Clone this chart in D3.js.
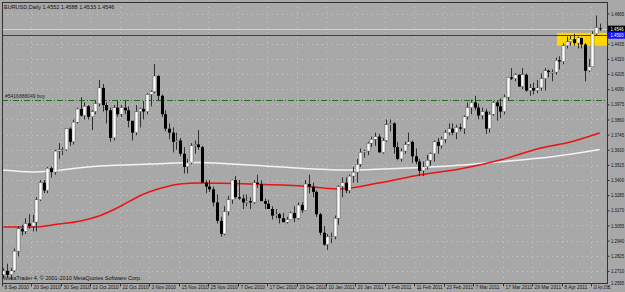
<!DOCTYPE html>
<html>
<head>
<meta charset="utf-8">
<script src="https://cdn.jsdelivr.net/npm/d3@7"></script>
<style>
	body { margin: 0; background: #a8a8a8; }
	svg { display: block; }
	text { font-family: "Liberation Sans", "DejaVu Sans", sans-serif; }
</style>
</head>
<body>
<div id="chart"></div>
<script>
// EURUSD Daily, 8 Sep 2010 .. 22 Apr 2011
var dates = ["2010-09-08","2010-09-09","2010-09-10","2010-09-13","2010-09-14","2010-09-15","2010-09-16","2010-09-17","2010-09-20","2010-09-21","2010-09-22","2010-09-23","2010-09-24","2010-09-27","2010-09-28","2010-09-29","2010-09-30",
	"2010-10-01","2010-10-04","2010-10-05","2010-10-06","2010-10-07","2010-10-08","2010-10-11","2010-10-12","2010-10-13","2010-10-14","2010-10-15","2010-10-18","2010-10-19","2010-10-20","2010-10-21","2010-10-22","2010-10-25","2010-10-26","2010-10-27","2010-10-28","2010-10-29",
	"2010-11-01","2010-11-02","2010-11-03","2010-11-04","2010-11-05","2010-11-08","2010-11-09","2010-11-10","2010-11-11","2010-11-12","2010-11-15","2010-11-16","2010-11-17","2010-11-18","2010-11-19","2010-11-22","2010-11-23","2010-11-24","2010-11-25","2010-11-26","2010-11-29","2010-11-30",
	"2010-12-01","2010-12-02","2010-12-03","2010-12-06","2010-12-07","2010-12-08","2010-12-09","2010-12-10","2010-12-13","2010-12-14","2010-12-15","2010-12-16","2010-12-17","2010-12-20","2010-12-21","2010-12-22","2010-12-23","2010-12-24","2010-12-27","2010-12-28","2010-12-29","2010-12-30","2010-12-31",
	"2011-01-03","2011-01-04","2011-01-05","2011-01-06","2011-01-07","2011-01-10","2011-01-11","2011-01-12","2011-01-13","2011-01-14","2011-01-17","2011-01-18","2011-01-19","2011-01-20","2011-01-21","2011-01-24","2011-01-25","2011-01-26","2011-01-27","2011-01-28","2011-01-31",
	"2011-02-01","2011-02-02","2011-02-03","2011-02-04","2011-02-07","2011-02-08","2011-02-09","2011-02-10","2011-02-11","2011-02-14","2011-02-15","2011-02-16","2011-02-17","2011-02-18","2011-02-21","2011-02-22","2011-02-23","2011-02-24","2011-02-25","2011-02-28",
	"2011-03-01","2011-03-02","2011-03-03","2011-03-04","2011-03-07","2011-03-08","2011-03-09","2011-03-10","2011-03-11","2011-03-14","2011-03-15","2011-03-16","2011-03-17","2011-03-18","2011-03-21","2011-03-22","2011-03-23","2011-03-24","2011-03-25","2011-03-28","2011-03-29","2011-03-30","2011-03-31",
	"2011-04-01","2011-04-04","2011-04-05","2011-04-06","2011-04-07","2011-04-08","2011-04-11","2011-04-12","2011-04-13","2011-04-14","2011-04-15","2011-04-18","2011-04-19","2011-04-20","2011-04-21","2011-04-22"];

var open = [1.2680,1.2710,1.2680,1.2710,1.2860,1.3030,1.3010,1.3070,1.3050,1.3080,1.3250,1.3380,1.3320,1.3490,1.3460,1.3620,1.3630,
	1.3630,1.3790,1.3690,1.3840,1.3940,1.3890,1.3960,1.3880,1.3920,1.3980,1.4100,1.3970,1.3930,1.3720,1.3950,1.3900,1.3950,1.3930,1.3850,1.3760,1.3920,
	1.3940,1.3920,1.4050,1.4070,1.4190,1.4040,1.3900,1.3790,1.3760,1.3690,1.3700,1.3600,1.3500,1.3530,1.3660,1.3670,1.3650,1.3380,1.3350,1.3330,1.3230,1.3090,
	1.2990,1.3160,1.3250,1.3400,1.3270,1.3260,1.3230,1.3240,1.3230,1.3380,1.3370,1.3240,1.3220,1.3180,1.3130,1.3140,1.3110,1.3080,1.3100,1.3150,1.3110,1.3210,1.3170,
	1.3370,1.3350,1.3310,1.3140,1.3000,1.2910,1.2970,1.2970,1.3110,1.3350,1.3380,1.3320,1.3430,1.3460,1.3520,1.3610,1.3620,1.3680,1.3710,1.3730,1.3610,
	1.3700,1.3820,1.3830,1.3650,1.3560,1.3620,1.3670,1.3690,1.3580,1.3540,1.3470,1.3500,1.3550,1.3600,1.3690,1.3660,1.3710,1.3760,1.3790,1.3760,
	1.3800,1.3790,1.3880,1.3950,1.3990,1.3950,1.3890,1.3920,1.3790,1.3900,1.3990,1.3960,1.3920,1.4030,1.4180,1.4170,1.4200,1.4110,1.4200,1.4080,1.4100,1.4080,1.4100,
	1.4170,1.4230,1.4220,1.4220,1.4310,1.4300,1.4420,1.4450,1.4470,1.4440,1.4480,1.4430,1.4230,1.4260,1.4510,1.4552];

var high = [1.2730,1.2765,1.2730,1.2880,1.3050,1.3060,1.3110,1.3140,1.3135,1.3270,1.3400,1.3400,1.3500,1.3500,1.3630,1.3680,1.3650,
	1.3790,1.3800,1.3860,1.3950,1.4030,1.3990,1.3970,1.3930,1.4000,1.4160,1.4130,1.3990,1.3950,1.3970,1.4000,1.3970,1.4000,1.3960,1.3850,1.3970,1.3950,
	1.4000,1.4060,1.4080,1.4280,1.4200,1.4050,1.3930,1.3830,1.3800,1.3760,1.3720,1.3650,1.3560,1.3680,1.3700,1.3780,1.3660,1.3400,1.3400,1.3350,1.3290,1.3120,
	1.3200,1.3280,1.3400,1.3430,1.3400,1.3290,1.3290,1.3270,1.3400,1.3440,1.3400,1.3260,1.3250,1.3200,1.3180,1.3150,1.3150,1.3120,1.3160,1.3200,1.3230,1.3230,1.3400,
	1.3440,1.3380,1.3320,1.3150,1.3050,1.2990,1.3000,1.3130,1.3360,1.3420,1.3420,1.3440,1.3500,1.3560,1.3640,1.3630,1.3690,1.3730,1.3760,1.3750,1.3720,
	1.3860,1.3860,1.3840,1.3690,1.3640,1.3690,1.3760,1.3700,1.3640,1.3560,1.3540,1.3590,1.3610,1.3700,1.3720,1.3730,1.3780,1.3830,1.3830,1.3820,
	1.3830,1.3890,1.3990,1.4010,1.4040,1.3980,1.3950,1.3940,1.3920,1.4000,1.4000,1.4020,1.4050,1.4180,1.4250,1.4210,1.4200,1.4250,1.4210,1.4130,1.4140,1.4160,1.4210,
	1.4250,1.4240,1.4240,1.4330,1.4340,1.4440,1.4490,1.4500,1.4510,1.4490,1.4480,1.4440,1.4320,1.4530,1.4650,1.4588];

var low = [1.2650,1.2660,1.2640,1.2700,1.2820,1.2980,1.2990,1.3030,1.3010,1.3010,1.3240,1.3300,1.3300,1.3420,1.3440,1.3560,1.3590,
	1.3620,1.3660,1.3670,1.3830,1.3880,1.3860,1.3860,1.3780,1.3900,1.3960,1.3920,1.3830,1.3690,1.3700,1.3880,1.3880,1.3900,1.3800,1.3700,1.3740,1.3800,
	1.3860,1.3900,1.3960,1.4060,1.4000,1.3880,1.3770,1.3710,1.3610,1.3630,1.3580,1.3450,1.3450,1.3520,1.3600,1.3630,1.3390,1.3300,1.3310,1.3200,1.3070,1.2970,
	1.2980,1.3130,1.3220,1.3260,1.3250,1.3180,1.3200,1.3180,1.3220,1.3340,1.3240,1.3180,1.3180,1.3100,1.3110,1.3070,1.3080,1.3070,1.3100,1.3080,1.3100,1.3150,1.3170,
	1.3300,1.3270,1.3120,1.2980,1.2900,1.2870,1.2920,1.2950,1.3060,1.3270,1.3300,1.3300,1.3380,1.3380,1.3500,1.3570,1.3590,1.3650,1.3660,1.3610,1.3600,
	1.3690,1.3770,1.3600,1.3550,1.3540,1.3600,1.3660,1.3530,1.3520,1.3430,1.3430,1.3480,1.3510,1.3540,1.3600,1.3640,1.3680,1.3740,1.3740,1.3710,
	1.3770,1.3750,1.3860,1.3900,1.3930,1.3860,1.3860,1.3750,1.3760,1.3890,1.3850,1.3870,1.3900,1.4000,1.4160,1.4150,1.4110,1.4090,1.4070,1.4040,1.4050,1.4060,1.4080,
	1.4080,1.4180,1.4150,1.4200,1.4240,1.4280,1.4400,1.4420,1.4420,1.4400,1.4400,1.4150,1.4220,1.4260,1.4500,1.4533];

var close = [1.2710,1.2680,1.2710,1.2860,1.3030,1.3010,1.3070,1.3050,1.3080,1.3250,1.3380,1.3320,1.3490,1.3460,1.3620,1.3630,1.3630,
	1.3790,1.3690,1.3840,1.3940,1.3890,1.3960,1.3880,1.3920,1.3980,1.4100,1.3970,1.3930,1.3720,1.3950,1.3900,1.3950,1.3930,1.3850,1.3760,1.3920,1.3940,
	1.3920,1.4050,1.4070,1.4190,1.4040,1.3900,1.3790,1.3760,1.3690,1.3700,1.3600,1.3500,1.3530,1.3660,1.3670,1.3650,1.3380,1.3350,1.3330,1.3230,1.3090,1.2990,
	1.3160,1.3250,1.3400,1.3270,1.3260,1.3230,1.3240,1.3230,1.3380,1.3370,1.3240,1.3220,1.3180,1.3130,1.3140,1.3110,1.3080,1.3100,1.3150,1.3110,1.3210,1.3170,1.3370,
	1.3350,1.3310,1.3140,1.3000,1.2910,1.2970,1.2970,1.3110,1.3350,1.3380,1.3320,1.3430,1.3460,1.3520,1.3610,1.3620,1.3680,1.3710,1.3730,1.3610,1.3700,
	1.3820,1.3830,1.3650,1.3560,1.3620,1.3670,1.3690,1.3580,1.3540,1.3470,1.3500,1.3550,1.3600,1.3690,1.3660,1.3710,1.3760,1.3790,1.3760,1.3800,
	1.3790,1.3880,1.3950,1.3990,1.3950,1.3890,1.3920,1.3790,1.3900,1.3990,1.3960,1.3920,1.4030,1.4180,1.4170,1.4200,1.4110,1.4200,1.4080,1.4100,1.4080,1.4100,1.4170,
	1.4230,1.4220,1.4220,1.4310,1.4300,1.4420,1.4450,1.4470,1.4440,1.4480,1.4430,1.4230,1.4260,1.4510,1.4560,1.4546];

// moving averages, read at sample bars (bar index, price)
var maRedIdx = [0, 8, 15, 21, 26, 32, 37, 43, 48, 53, 67, 81, 91, 102, 113, 124, 135, 146, 154, 162];
var maRedVal = [1.3043, 1.3043, 1.3066, 1.3089, 1.3127, 1.3203, 1.3279, 1.3339, 1.3370, 1.3377, 1.3370, 1.3355, 1.3332, 1.3377, 1.3438, 1.3484, 1.3552, 1.3643, 1.3689, 1.3757];
var maWhiteIdx = [0, 8, 26, 40, 53, 67, 81, 94, 108, 121, 135, 149, 162];
var maWhiteVal = [1.3476, 1.3461, 1.3507, 1.3522, 1.3533, 1.3514, 1.3489, 1.3476, 1.3489, 1.3507, 1.3539, 1.3577, 1.3632];

var priceTicks = [1.4665, 1.4435, 1.4320, 1.4205, 1.4090, 1.3975, 1.3860, 1.3745, 1.3630, 1.3515, 1.3400, 1.3285, 1.3170, 1.3055, 1.2940, 1.2825, 1.2710, 1.2595];
var dateTicks = ["2010-09-08","2010-09-20","2010-09-30","2010-10-12","2010-10-22","2010-11-03","2010-11-15","2010-11-25","2010-12-07","2010-12-17","2010-12-29",
	"2011-01-10","2011-01-20","2011-02-01","2011-02-11","2011-02-23","2011-03-07","2011-03-17","2011-03-29","2011-04-08","2011-04-20"];

var bidPrice = 1.4546;
var hLinePrice = 1.4500;
var orderPrice = 1.4010;
var orderLabel = "#5416888049 buy";
var boxTop = 1.4518, boxBottom = 1.4420, boxFrom = "2011-04-07";

(function(){

	var W = 625, H = 292;
	var pLeft = 2, pRight = 607, pTop = 2, pBottom = 283;

	var svg = d3.select("#chart").append("svg").attr("width", W).attr("height", H);
	svg.append("rect").attr("width", W).attr("height", H).attr("fill", "#a8a8a8");

	var x = d3.scaleBand().domain(dates).range([pLeft, pLeft + dates.length * 3.675]).paddingInner(0.3).paddingOuter(0);
	var y = d3.scaleLinear().domain([1.26178, 1.47524]).range([pBottom, pTop]);
	var xc = function(d){ return x(d) + x.bandwidth() / 2; };
	var parse = d3.timeParse("%Y-%m-%d");
	var fmtDate = d3.timeFormat("%-d %b %Y");

	// grid
	var grid = svg.append("g").attr("stroke", "#d6cccc").attr("stroke-dasharray", "1,4").attr("stroke-width", 1).attr("opacity", 0.8);
	priceTicks.forEach(function(p){
		grid.append("line").attr("x1", pLeft).attr("x2", pRight).attr("y1", Math.round(y(p)) + 0.5).attr("y2", Math.round(y(p)) + 0.5);
	});
	dateTicks.forEach(function(d){
		grid.append("line").attr("x1", Math.round(x(d)) + 0.5).attr("x2", Math.round(x(d)) + 0.5).attr("y1", pTop).attr("y2", pBottom);
	});

	// yellow rectangle object
	svg.append("rect")
		.attr("x", x(boxFrom) - 1).attr("y", y(boxTop))
		.attr("width", pRight - x(boxFrom) + 1).attr("height", y(boxBottom) - y(boxTop))
		.attr("fill", "#ffd700");

	// order line
	svg.append("line").attr("x1", pLeft).attr("x2", pRight).attr("y1", Math.round(y(orderPrice)) + 0.5).attr("y2", Math.round(y(orderPrice)) + 0.5)
		.attr("stroke", "#1e6e1e").attr("stroke-dasharray", "6,2,1,2");
	svg.append("text").attr("x", 5).attr("y", y(orderPrice) - 2).attr("font-size", 5).attr("fill", "#222").text(orderLabel);

	// bid line and horizontal line
	svg.append("line").attr("x1", pLeft).attr("x2", pRight).attr("y1", Math.round(y(bidPrice)) + 0.5).attr("y2", Math.round(y(bidPrice)) + 0.5).attr("stroke", "#d4d4d4");
	svg.append("line").attr("x1", pLeft).attr("x2", pRight).attr("y1", Math.round(y(hLinePrice)) + 0.5).attr("y2", Math.round(y(hLinePrice)) + 0.5).attr("stroke", "#3030d0");

	// moving averages
	var maLine = d3.line().x(function(d){ return xc(dates[d[0]]); }).y(function(d){ return y(d[1]); }).curve(d3.curveMonotoneX);
	svg.append("path").datum(d3.zip(maWhiteIdx, maWhiteVal)).attr("d", maLine).attr("fill", "none").attr("stroke", "#f4f4f4").attr("stroke-width", 1.5);
	svg.append("path").datum(d3.zip(maRedIdx, maRedVal)).attr("d", maLine).attr("fill", "none").attr("stroke", "#ee1111").attr("stroke-width", 1.5);

	// candles
	var candles = svg.append("g");
	dates.forEach(function(d, i){
		var up = close[i] >= open[i];
		var cx = Math.round(xc(d));
		candles.append("line")
			.attr("x1", cx + 0.5).attr("x2", cx + 0.5)
			.attr("y1", y(high[i])).attr("y2", y(low[i]))
			.attr("stroke", "#303030").attr("stroke-width", 1);
		var yt = y(Math.max(open[i], close[i])), yb = y(Math.min(open[i], close[i]));
		candles.append("rect")
			.attr("x", cx - 1).attr("y", yt)
			.attr("width", 3).attr("height", Math.max(1, yb - yt))
			.attr("fill", up ? "#ffffff" : "#000000")
			.attr("stroke", up ? "#404040" : "none").attr("stroke-width", 0.4);
	});

	// frame
	svg.append("rect").attr("x", pLeft + 0.5).attr("y", pTop + 0.5).attr("width", pRight - pLeft).attr("height", pBottom - pTop)
		.attr("fill", "none").attr("stroke", "#303030");

	// price axis
	var yAxis = d3.axisRight(y).tickValues(priceTicks).tickSize(2).tickFormat(d3.format(".4f"));
	var ya = svg.append("g").attr("transform", "translate(" + (pRight + 0.5) + ",0)").call(yAxis);
	ya.select(".domain").remove();
	ya.selectAll("line").attr("stroke", "#303030");
	ya.selectAll("text").attr("font-size", 5).attr("fill", "#111").attr("x", 3.5)
		.attr("textLength", 13).attr("lengthAdjust", "spacingAndGlyphs");
	// lowest label is kept above the date row
	ya.selectAll("text").filter(function(d){ return d === priceTicks[priceTicks.length - 1]; }).attr("y", -3);

	// price labels
	function priceTag(p, bg, fg){
		var g = svg.append("g").attr("transform", "translate(" + (pRight + 1) + "," + y(p) + ")");
		g.append("rect").attr("x", 0).attr("y", -3.5).attr("width", 17).attr("height", 7).attr("fill", bg);
		g.append("text").attr("x", 2.5).attr("y", 2).attr("font-size", 5).attr("fill", fg)
			.attr("textLength", 13).attr("lengthAdjust", "spacingAndGlyphs").text(d3.format(".4f")(p));
	}
	priceTag(bidPrice, "#000000", "#ffffff");
	priceTag(hLinePrice, "#1414ff", "#ffffff");

	// time axis
	var xAxis = d3.axisBottom(x).tickValues(dateTicks).tickSize(3).tickFormat(function(d){ return fmtDate(parse(d)); });
	var xa = svg.append("g").attr("transform", "translate(0," + (pBottom + 0.5) + ")").call(xAxis);
	xa.select(".domain").remove();
	xa.selectAll(".tick").attr("transform", function(d){ return "translate(" + (Math.round(x(d)) + 0.5) + ",0)"; });
	xa.selectAll("line").attr("stroke", "#303030");
	xa.selectAll("text").attr("font-size", 4.8).attr("fill", "#111").attr("text-anchor", "start").attr("x", 2).attr("y", 2).attr("dy", "0.71em");
	// the last label sits next to the price scale
	xa.selectAll("text").filter(function(d){ return d === dateTicks[dateTicks.length - 1]; })
		.attr("textLength", 17).attr("lengthAdjust", "spacingAndGlyphs");

	// texts
	var last = open.length - 1;
	svg.append("text").attr("x", 4).attr("y", 9).attr("font-size", 5.5).attr("fill", "#111")
		.text("EURUSD,Daily  " + [open[last], high[last], low[last], close[last]].map(d3.format(".4f")).join(" "));
	svg.append("text").attr("x", 4).attr("y", 280).attr("font-size", 5.5).attr("fill", "#111")
		.text("MetaTrader 4, \u00a9 2001-2010 MetaQuotes Software Corp.");

})();
</script>
</body>
</html>
